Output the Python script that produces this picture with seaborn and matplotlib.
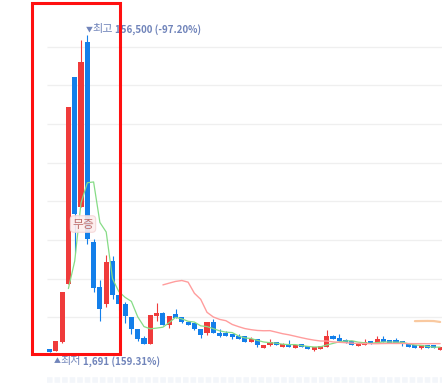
"""Candlestick chart with 5/20/60-day moving averages (KRW)."""

import matplotlib
matplotlib.use("Agg")
import matplotlib.pyplot as plt
from matplotlib.patches import Rectangle
import numpy as np
import pandas as pd
import seaborn as sns

# ---------------------------------------------------------------------------
# Data: daily candles, oldest first. The first row sits just left of the
# visible window (it only feeds the moving averages).
# ---------------------------------------------------------------------------
opens = [2000, 3170, 2200, 6740, 34680, 136020, 72380, 152970, 55580, 33600,
         25150, 46150, 29550, 25150, 18560, 12940, 8690, 5620, 19440, 20760,
         14900, 20270, 18800, 16510, 16020, 12940, 11230, 16510, 10990, 11140,
         10500, 9670, 9520, 6590, 8060, 3660, 5130, 6590, 4150, 5620,
         3660, 5620, 4640, 2690, 3170, 4300, 9520, 8550, 7570, 7080,
         4640, 5130, 7080, 6100, 8060, 7570, 7570, 7080, 5620, 5130,
         3660, 5130, 5130, 2690]
highs = [2100, 3400, 7080, 31160, 121500, 136020, 154090, 156500, 56900, 36870,
         49080, 48600, 29550, 26370, 18560, 12940, 9520, 19780, 25490, 21390,
         19290, 22710, 18800, 16510, 16020, 12940, 16510, 17830, 12940, 11970,
         10500, 10500, 9520, 9180, 8060, 5130, 8060, 6590, 6100, 7570,
         5130, 5620, 4640, 4150, 4640, 12450, 10010, 10500, 8060, 7080,
         6100, 8060, 7080, 9520, 9520, 7570, 8550, 7080, 5620, 5130,
         5130, 5130, 5130, 4385]
lows = [1900, 1691, 2200, 6250, 34680, 50060, 72380, 54460, 31160, 17000,
        23830, 27600, 22220, 15870, 10500, 7230, 5620, 5620, 16850, 14900,
        13430, 18310, 15630, 14900, 12450, 8550, 10010, 11140, 9180, 9670,
        8200, 8200, 6450, 6590, 4300, 3660, 4640, 5130, 4150, 4150,
        3660, 4150, 3170, 2200, 3170, 4300, 8060, 7080, 6100, 5270,
        4640, 5130, 5620, 6100, 6590, 6100, 6100, 4640, 4150, 3660,
        3170, 3660, 3660, 2690]
closes = [1990, 1760, 7080, 31160, 121500, 68960, 143490, 56750, 33110, 22560,
          45670, 29550, 25150, 19050, 12700, 8060, 5620, 19780, 20760, 14900,
          19290, 18310, 16210, 14900, 12940, 10010, 16510, 11140, 9670, 9670,
          9040, 8200, 6450, 8060, 5130, 5130, 6590, 5130, 5620, 4150,
          5130, 4150, 3170, 4150, 4640, 9520, 8060, 7080, 6100, 5270,
          6100, 6590, 5620, 8060, 6590, 6100, 6100, 5620, 4150, 3660,
          5130, 3660, 3660, 4385]

ma_windows = [5, 20, 60]
ma_colors = ["#86dc86", "#ff9d9d", "#f9c9a0"]
ma_widths = [0.9, 1.0, 1.6]

grid_levels = [18660, 37540, 56420, 75300, 94180, 113060, 131940, 150820]

max_label = ["▼", "최고", "156,500 (-97.20%)"]
min_label = ["▲", "최저", "1,691 (159.31%)"]
event_label = "무증"

UP = "#ef3b3b"
DOWN = "#137fea"
LABEL = "#7084ba"


def put_label(ax, parts, xy, offsets, dy):
    """Marker, word and bold value, placed side by side under/over a point."""
    sizes = [5.0, 8.0, 7.0]
    weights = ["normal", "normal", "bold"]
    for text, dx, fs, fw in zip(parts, offsets, sizes, weights):
        ax.annotate(text, xy, xytext=(dx, dy), textcoords="offset pixels",
                    ha="left", va="center", fontsize=fs, fontweight=fw,
                    color=LABEL, zorder=6, annotation_clip=False)


def main() -> None:
    sns.set_theme(style="white")
    plt.rcParams["font.family"] = ["Noto Sans CJK KR", "DejaVu Sans"]

    df = pd.DataFrame({"open": opens, "high": highs, "low": lows, "close": closes})
    df["idx"] = np.arange(len(df)) - 1  # first row is off-screen
    for w in ma_windows:
        df[f"ma{w}"] = df["close"].rolling(w).mean()

    W, H = 442, 383
    fig = plt.figure(figsize=(W / 100, H / 100), dpi=100)
    fig.patch.set_facecolor("white")
    ax = fig.add_axes([47 / W, 0, (W - 47) / W, 1])
    ax.set_facecolor("white")
    ax.set_xlim(-0.397, 62.3)
    ax.set_ylim(-13431, 173626)

    # grid
    ax.hlines(grid_levels, -0.397, 62.3, color="#efefef", lw=0.9, zorder=0)
    # faint x-axis strip at bottom
    ax.hlines(-11966, -0.397, 62.3, color="#f3f6fa", lw=4.0,
              linestyles=[(0, (1.0, 0.36))], zorder=0)

    # candles
    up = df["close"] >= df["open"]
    colors = np.where(up, UP, DOWN)
    bottoms = df[["open", "close"]].min(axis=1)
    heights = (df["close"] - df["open"]).abs().clip(lower=500)
    ax.vlines(df["idx"], df["low"], df["high"], colors=colors, lw=0.8, zorder=2)
    ax.bar(df["idx"], heights, bottom=bottoms, width=0.8, color=colors,
           linewidth=0, zorder=3)

    # moving averages
    for w, c, lw in zip(ma_windows, ma_colors, ma_widths):
        sns.lineplot(data=df, x="idx", y=f"ma{w}", ax=ax, color=c,
                     linewidth=lw, zorder=4, legend=False)

    for s in ax.spines.values():
        s.set_visible(False)
    ax.set_xticks([])
    ax.set_yticks([])
    ax.set_xlabel("")
    ax.set_ylabel("")

    # high / low labels
    imax = int(df["high"].idxmax())
    imin = int(df["low"].iloc[1:].idxmin())
    put_label(ax, max_label, (df.loc[imax, "idx"], df.loc[imax, "high"]),
              [-1.5, 5.5, 28], 6)
    put_label(ax, min_label, (df.loc[imin, "idx"], df.loc[imin, "low"]),
              [3.8, 11.0, 33.8], -9)

    # event badge
    ax.text(5.32, 64220, event_label, ha="center", va="center", fontsize=8.5,
            color="#c0706e", zorder=7,
            bbox=dict(boxstyle="round,pad=0.15,rounding_size=0.3",
                      fc="#fdeeee", ec="#f5d6d6", lw=0.8, alpha=0.9))

    # red highlight box
    fig.patches.append(Rectangle((32 / W, 1 - 353.5 / H), 88 / W, 350.5 / H,
                                 transform=fig.transFigure, fill=False,
                                 ec="#ff1010", lw=2.2, zorder=10))

    fig.savefig("out.png", dpi=100)
    plt.close(fig)


if __name__ == "__main__":
    main()
